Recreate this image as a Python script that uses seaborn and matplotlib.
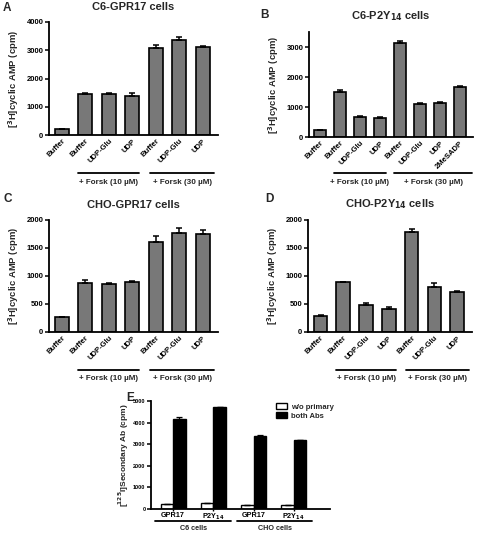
import numpy as np
import pandas as pd
import seaborn as sns
import matplotlib.pyplot as plt
import matplotlib.transforms as mtransforms

# Data
labels_7 = ['Buffer', 'Buffer', 'UDP-Glu', 'UDP', 'Buffer', 'UDP-Glu', 'UDP']
labels_8 = labels_7 + ['2MeSADP']

a_vals = [200, 1450, 1440, 1380, 3080, 3350, 3130]
a_err = [20, 30, 30, 120, 100, 130, 20]

b_vals = [220, 1500, 670, 640, 3130, 1110, 1130, 1680]
b_err = [15, 70, 25, 20, 80, 30, 50, 30]

c_vals = [260, 880, 860, 890, 1610, 1760, 1750]
c_err = [8, 50, 20, 15, 100, 90, 70]

d_vals = [280, 890, 480, 410, 1780, 810, 720]
d_err = [15, 5, 30, 30, 60, 60, 15]

e_receptors = ['GPR17', r'P2Y$_\mathbf{14}$', 'GPR17', r'P2Y$_\mathbf{14}$']
e_without = [240, 270, 180, 170]
e_without_err = [10, 10, 10, 10]
e_both = [4180, 4700, 3370, 3190]
e_both_err = [70, 20, 40, 15]

sns.set_style('ticks')
plt.rcParams['font.family'] = ['Liberation Sans', 'DejaVu Sans']
plt.rcParams['font.weight'] = 'bold'
plt.rcParams['mathtext.default'] = 'bf'

fig = plt.figure(figsize=(4.78, 5.36), dpi=100)
W, H = 478, 536


def add_ax(left, top, right, bottom):
    return fig.add_axes([left / W, 1 - bottom / H, (right - left) / W, (bottom - top) / H])


def style_ax(ax, fs=5.5):
    sns.despine(ax=ax)
    for s in ['left', 'bottom']:
        ax.spines[s].set_linewidth(1.3)
        ax.spines[s].set_color('black')
    ax.tick_params(axis='y', length=3, width=1.1, labelsize=fs, pad=1, colors='black')
    ax.tick_params(axis='x', length=0, labelsize=fs, pad=2, colors='black')


def bracket(ax, x0, x1, text, dy_line=38, dy_text=47, fs=5.8):
    tr = mtransforms.blended_transform_factory(ax.transData, ax.transAxes)
    tl = tr + mtransforms.ScaledTranslation(0, -dy_line / 100, fig.dpi_scale_trans)
    tt = tr + mtransforms.ScaledTranslation(0, -dy_text / 100, fig.dpi_scale_trans)
    ax.plot([x0, x1], [0, 0], color='black', lw=1.3, transform=tl, clip_on=False)
    ax.text((x0 + x1) / 2, 0, text, transform=tt, ha='center', va='center',
            fontsize=fs, fontweight='bold')


def cyclic_panel(ax, labels, vals, err, ymax, step, title):
    df = pd.DataFrame({'pos': [str(i) for i in range(len(vals))], 'val': vals})
    sns.barplot(data=df, x='pos', y='val', color='#787878', edgecolor='black',
                linewidth=1.2, width=0.6, saturation=1, ax=ax, errorbar=None)
    n = len(vals)
    ax.errorbar(range(n), vals, yerr=[np.zeros(n), err], fmt='none',
                ecolor='black', elinewidth=1.1, capsize=2.5, capthick=1.1)
    ax.set_ylim(0, ymax)
    ax.set_xlim(-0.55, n - 0.35)
    ax.set_yticks(np.arange(0, ymax + 1, step))
    ax.set_xticks(range(n))
    ax.set_xticklabels(labels, rotation=45, ha='right', rotation_mode='anchor')
    ax.set_xlabel('')
    ax.set_ylabel(r'[$^3$H]cyclic AMP (cpm)', fontsize=6.8, fontweight='bold', labelpad=4)
    style_ax(ax)
    ax.set_title(title, fontsize=8, fontweight='bold', pad=9)


# Panel A
axA = add_ax(49, 22, 218, 135)
cyclic_panel(axA, labels_7, a_vals, a_err, 4000, 1000, 'C6-GPR17 cells')
bracket(axA, 0.7, 3.3, '+ Forsk (10 µM)')
bracket(axA, 3.75, 6.5, '+ Forsk (30 µM)')

# Panel B
axB = add_ax(309, 32, 473, 137)
cyclic_panel(axB, labels_8, b_vals, b_err, 3500, 1000, r'C6-P2Y$_\mathbf{14}$ cells')
axB.set_yticks([0, 1000, 2000, 3000])
axB.title.set_position((0.5, 1.06))
bracket(axB, 0.7, 3.3, '+ Forsk (10 µM)', dy_line=36, dy_text=45)
bracket(axB, 3.7, 7.6, '+ Forsk (30 µM)', dy_line=36, dy_text=45)

# Panel C
axC = add_ax(49, 220, 218, 332)
cyclic_panel(axC, labels_7, c_vals, c_err, 2000, 500, 'CHO-GPR17 cells')
bracket(axC, 0.7, 3.3, '+ Forsk (10 µM)')
bracket(axC, 3.75, 6.5, '+ Forsk (30 µM)')

# Panel D
axD = add_ax(308, 220, 472, 332)
cyclic_panel(axD, labels_7, d_vals, d_err, 2000, 500, r'CHO-P2Y$_\mathbf{14}$ cells')
bracket(axD, 0.7, 3.3, '+ Forsk (10 µM)')
bracket(axD, 3.75, 6.5, '+ Forsk (30 µM)')

# Panel E
axE = add_ax(151, 401, 330, 509)
e_df = pd.DataFrame({
    'receptor': [str(i) for i in range(4)] * 2,
    'group': ['w/o primary'] * 4 + ['both Abs'] * 4,
    'val': e_without + e_both,
})
sns.barplot(data=e_df, x='receptor', y='val', hue='group',
            palette={'w/o primary': 'white', 'both Abs': 'black'},
            edgecolor='black', linewidth=1.0, width=0.62, saturation=1,
            errorbar=None, ax=axE)
xs = np.arange(4)
axE.errorbar(xs - 0.155, e_without, yerr=[np.zeros(4), e_without_err], fmt='none',
             ecolor='black', elinewidth=0.9, capsize=2, capthick=0.9)
axE.errorbar(xs + 0.155, e_both, yerr=[np.zeros(4), e_both_err], fmt='none',
             ecolor='black', elinewidth=0.9, capsize=2, capthick=0.9)
axE.set_ylim(0, 5000)
axE.set_yticks(np.arange(0, 5001, 1000))
axE.set_xlim(-0.55, 3.9)
axE.set_xticks(xs)
axE.set_xticklabels(e_receptors)
axE.set_xlabel('')
axE.set_ylabel(r'[$^{125}$I]Secondary Ab (cpm)', fontsize=6, fontweight='bold', labelpad=1)
style_ax(axE, fs=4)
axE.tick_params(axis='x', length=1.5, width=1.0, labelsize=5.2, pad=0.5)
axE.legend(loc='upper right', bbox_to_anchor=(1.05, 1.03), frameon=False,
           fontsize=5.5, handlelength=1.4, handleheight=0.9, labelspacing=0.15,
           borderpad=0.2, handletextpad=0.5)
bracket(axE, -0.45, 1.45, 'C6 cells', dy_line=12, dy_text=19, fs=5.2)
bracket(axE, 1.6, 3.45, 'CHO cells', dy_line=12, dy_text=19, fs=5.2)

# Panel letters
for letter, (px, py) in zip('ABCDE', [(3, 8), (260, 15), (3, 199), (265, 199), (126, 398)]):
    fig.text(px / W, 1 - py / H, letter, fontsize=8.5, fontweight='bold', va='center')

fig.savefig('out.png', dpi=100)
